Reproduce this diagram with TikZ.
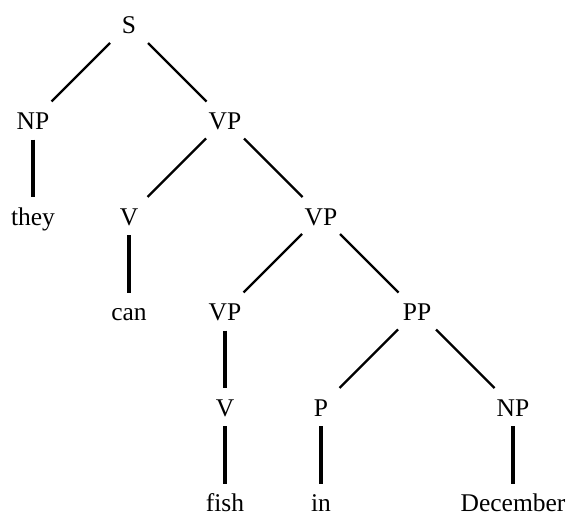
\documentclass[tikz,border=0pt]{standalone}
\usepackage{fontspec}
\setmainfont{Liberation Serif}
\usetikzlibrary{calc}
\tikzset{
  lab/.style={anchor=base, inner sep=0pt, font=\fontsize{25.5}{30}\selectfont},
  diag/.style={line width=2.2pt},
  vert/.style={line width=3.2pt}
}
\begin{document}
\begin{tikzpicture}[x=1pt,y=-1pt]
\useasboundingbox (0,0) rectangle (569,516);
% level baselines
\def\la{34}\def\lb{129.5}\def\lc{225}\def\ld{320.5}\def\le{416}\def\lf{511.5}
\node[lab] (S) at (129,\la) {S};
\node[lab] (NPa) at (33,\lb) {NP};
\node[lab] (VPa) at (225,\lb) {VP};
\node[lab] (they) at (33,\lc) {they};
\node[lab] (Va) at (129,\lc) {V};
\node[lab] (VPb) at (321,\lc) {VP};
\node[lab] (can) at (129,\ld) {can};
\node[lab] (VPc) at (225,\ld) {VP};
\node[lab] (PP) at (417,\ld) {PP};
\node[lab] (Vb) at (225,\le) {V};
\node[lab] (P) at (321,\le) {P};
\node[lab] (NPb) at (513,\le) {NP};
\node[lab] (fish) at (225,\lf) {fish};
\node[lab] (in) at (321,\lf) {in};
\node[lab] (Dec) at (513,\lf) {December};
% diagonal edges
\foreach \p/\c in {S/NPa, VPa/Va, VPb/VPc, PP/P}
  \draw[diag] ($(\p.base)+(-19,9)$) -- ($(\c.base)+(18.5,-28)$);
\foreach \p/\c in {S/VPa, VPa/VPb, VPb/PP, PP/NPb}
  \draw[diag] ($(\p.base)+(19,9)$) -- ($(\c.base)+(-18.5,-28)$);
% vertical edges
\foreach \p/\c in {NPa/they, Va/can, VPc/Vb, Vb/fish, P/in, NPb/Dec}
  \draw[vert] ($(\p.base)+(0,10)$) -- ($(\c.base)+(0,-28)$);
\end{tikzpicture}
\end{document}
